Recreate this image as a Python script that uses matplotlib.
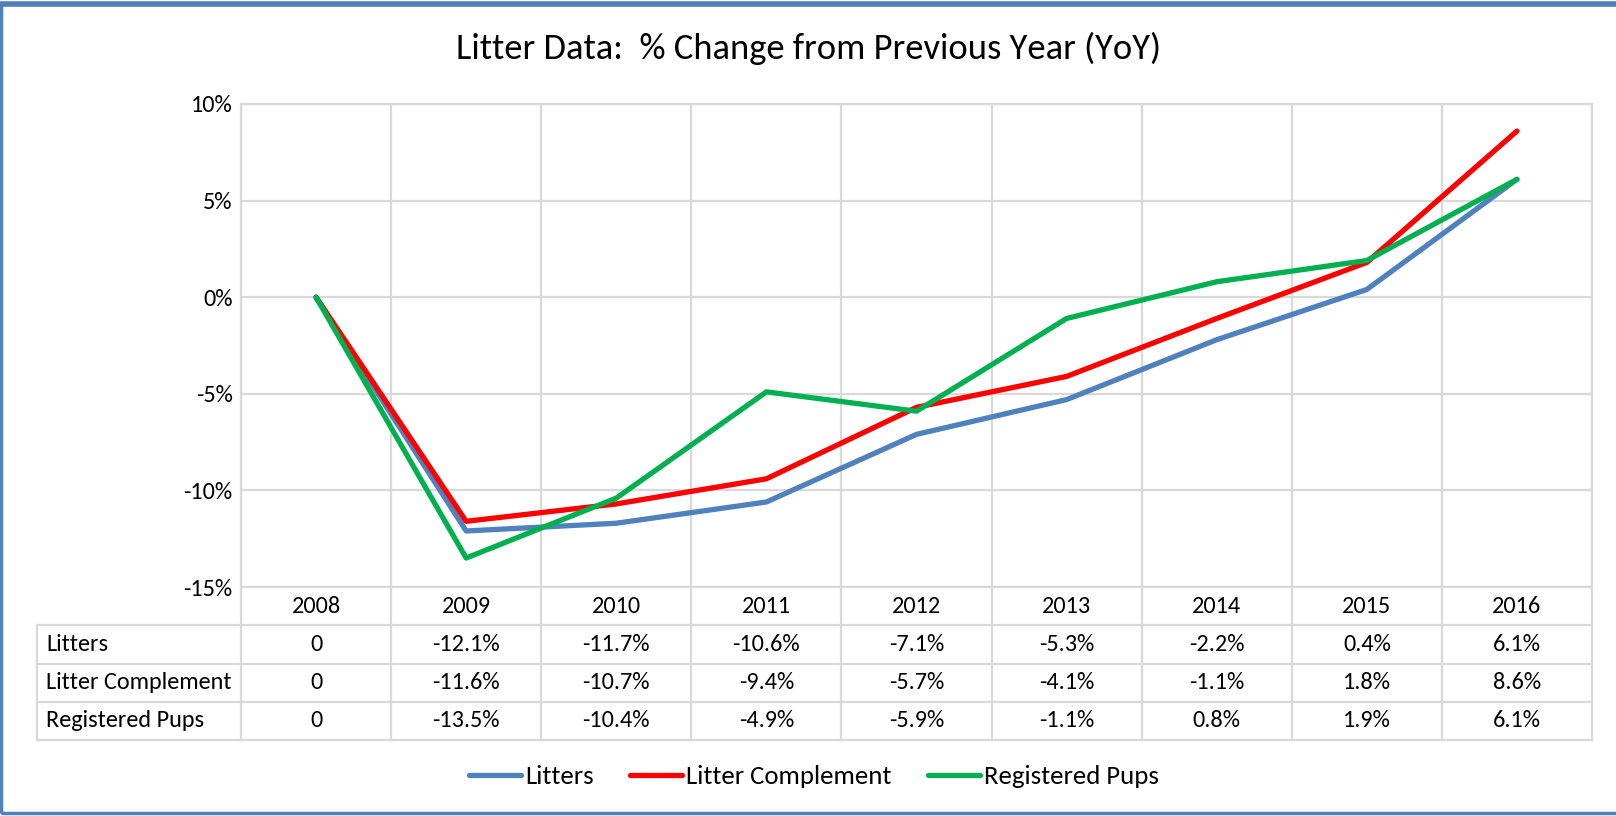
import matplotlib
matplotlib.use("Agg")
import matplotlib.pyplot as plt
from matplotlib.lines import Line2D
from matplotlib.patches import Rectangle
from matplotlib.ticker import FuncFormatter, MultipleLocator

plt.rcParams['font.family'] = ['Carlito', 'Lato', 'DejaVu Sans']

years = ['2008', '2009', '2010', '2011', '2012', '2013', '2014', '2015', '2016']
litters = [0.0, -12.1, -11.7, -10.6, -7.1, -5.3, -2.2, 0.4, 6.1]
litter_complement = [0.0, -11.6, -10.7, -9.4, -5.7, -4.1, -1.1, 1.8, 8.6]
registered_pups = [0.0, -13.5, -10.4, -4.9, -5.9, -1.1, 0.8, 1.9, 6.1]

series_names = ['Litters', 'Litter Complement', 'Registered Pups']
series_values = [litters, litter_complement, registered_pups]
colors = ['#4F81BD', '#FF0000', '#00B050']
title = 'Litter Data:  % Change from Previous Year (YoY)'

W, H = 1616, 816
fig = plt.figure(figsize=(W / 100, H / 100), dpi=100)

def fx(px):
    return px / W

def fy(py):
    return 1 - py / H

# Plot area in pixels
L, R, T, B = 241, 1592, 104, 587
ax = fig.add_axes([fx(L), fy(B), fx(R - L), fy(T) - fy(B)])
n = len(years)
x = list(range(n))
for name, vals, c in zip(series_names, series_values, colors):
    ax.plot(x, vals, color=c, lw=3.8, solid_capstyle='round', solid_joinstyle='round', label=name, zorder=3)

fs = 17.5
ax.set_xlim(-0.5, n - 0.5)
ax.set_ylim(-15, 10)
ax.yaxis.set_major_locator(MultipleLocator(5))
ax.yaxis.set_major_formatter(FuncFormatter(lambda v, p: f'{v:.0f}%'))
ax.set_xticks([i + 0.5 for i in range(-1, n)], minor=False)
ax.xaxis.set_ticklabels([])
ax.tick_params(axis='x', length=0)
ax.tick_params(axis='y', length=0, labelsize=fs, pad=6)
ax.grid(True, color='#D9D9D9', lw=1.6)
for side in ['left', 'right', 'top']:
    ax.spines[side].set_color('#D9D9D9')
    ax.spines[side].set_linewidth(1.6)
ax.spines['bottom'].set_visible(False)

# Data table
TL = 37
TB = 740
colw = (R - L) / n
tax = fig.add_axes([fx(TL), fy(TB), fx(R - TL), fy(B) - fy(TB)])
x0 = -0.5 - (L - TL) / colw
tax.set_xlim(x0, n - 0.5)
nrows = len(series_names) + 1
tax.set_ylim(nrows, 0)
tax.axis('off')
gc = '#D9D9D9'
glw = 1.6
tax.plot([-0.5, n - 0.5], [0, 0], color=gc, lw=glw, clip_on=False)
for r in range(1, nrows + 1):
    tax.plot([x0, n - 0.5], [r, r], color=gc, lw=glw, clip_on=False)
tax.plot([x0, x0], [1, nrows], color=gc, lw=glw, clip_on=False)
for i in range(n + 1):
    tax.plot([i - 0.5, i - 0.5], [0, nrows], color=gc, lw=glw, clip_on=False)

for i, yr in enumerate(years):
    tax.text(i, 0.5, yr, ha='center', va='center', fontsize=fs)
for r, (name, vals) in enumerate(zip(series_names, series_values)):
    tax.text(x0 + 0.06, r + 1.5, name, ha='left', va='center', fontsize=fs)
    for i, v in enumerate(vals):
        s = '0' if i == 0 else f'{v:.1f}%'
        tax.text(i, r + 1.5, s, ha='center', va='center', fontsize=fs)

fig.suptitle(title, x=0.5, y=fy(48), va='center', fontsize=26.3)

handles = [Line2D([], [], color=c, lw=3.8, solid_capstyle='round') for c in colors]
fig.legend(handles, series_names, loc='center', bbox_to_anchor=(fx(814), fy(777)),
           ncol=3, frameon=False, fontsize=19.3, handlelength=1.95, handletextpad=0.15,
           columnspacing=1.35)

# outer chart border
fig.add_artist(Rectangle((fx(1), fy(813)), fx(1620), fy(4) - fy(813), fill=False,
                         edgecolor='#4F81BD', lw=2.5, transform=fig.transFigure))
fig.add_artist(Line2D([0, 1], [fy(3.5), fy(3.5)], color='#4F81BD', lw=4, transform=fig.transFigure))

fig.savefig('out.png', dpi=100, facecolor='white')
